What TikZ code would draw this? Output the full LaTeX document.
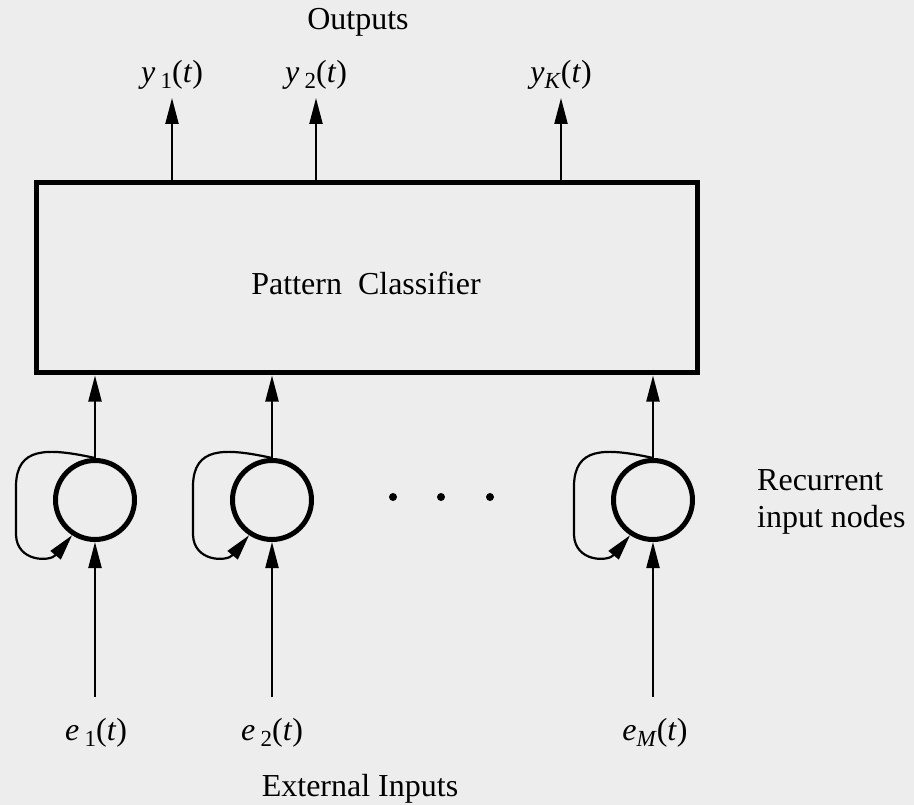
\documentclass[tikz,border=0pt]{standalone}
\usepackage{fontspec}
\setmainfont{Liberation Serif}
\usetikzlibrary{arrows.meta,calc}
\newcommand\sbs[1]{\raisebox{-0.4ex}{\fontsize{23}{26}\selectfont #1}}
\begin{document}
\begin{tikzpicture}[x=1pt,y=-1pt,
  txt/.style={font=\fontsize{32}{37}\selectfont, inner sep=0pt},
  arr/.style={line width=2.2pt, -{Triangle[length=26pt 0 0,width=13pt 0 0]}},
  neuron/.style={circle, draw, line width=5pt, minimum size=79pt, inner sep=0pt},
  boxst/.style={draw, line width=5pt, minimum width=661pt, minimum height=190pt, inner sep=0pt}]
\fill[black!7] (0,0) rectangle (914,805);
\useasboundingbox (0,0) rectangle (914,805);

\node[boxst] (pc) at (366.5,278) {};
\node[txt] (pclab) at (366,283) {Pattern\ \ Classifier};

\node[txt] (out) at (358,22) {Outputs};
\node[txt] (y1) at (172,75) {\textit{y}\,\sbs{1}(\textit{t})};
\node[txt] (y2) at (316,75) {\textit{y}\,\sbs{2}(\textit{t})};
\node[txt] (yk) at (561,75) {\textit{y}\sbs{\textit{K}}(\textit{t})};
\coordinate (o1) at (172,98);
\coordinate (o2) at (316,98);
\coordinate (ok) at (561,98);
\foreach \o in {o1,o2,ok} \draw[arr] (pc.north -| \o) -- (\o);

\node[neuron] (n1) at (95,500) {};
\node[neuron] (n2) at (272,500) {};
\node[neuron] (n3) at (653,500) {};

\foreach \n in {n1,n2,n3} {
  \draw[arr] (\n.north) -- (pc.south -| \n);
  \draw[arr] (\n.north) .. controls ($(\n)+(-50,-53)$) and ($(\n)+(-78,-52)$) .. ($(\n)+(-79,-15)$)
     -- ($(\n)+(-79,35)$) .. controls ($(\n)+(-78,62)$) and ($(\n)+(-45,62)$) .. (\n.237);
}

\node[circle, fill, inner sep=0pt, minimum size=8pt] (d1) at (393,497) {};
\node[circle, fill, inner sep=0pt, minimum size=8pt] (d2) at (441,497) {};
\node[circle, fill, inner sep=0pt, minimum size=8pt] (d3) at (490,497) {};

\node[txt, align=left, anchor=west] (rec) at (757,502) {Recurrent\\input nodes};

\node[txt] (e1) at (96,733) {\textit{e}\,\sbs{1}(\textit{t})};
\node[txt] (e2) at (272,733) {\textit{e}\,\sbs{2}(\textit{t})};
\node[txt] (em) at (655,733) {\textit{e}\sbs{\textit{M}}(\textit{t})};
\coordinate (i1) at (95,697);
\coordinate (i2) at (272,697);
\coordinate (i3) at (653,697);
\draw[arr] (i1) -- (n1.south);
\draw[arr] (i2) -- (n2.south);
\draw[arr] (i3) -- (n3.south);

\node[txt] (ext) at (360,789) {External Inputs};
\end{tikzpicture}
\end{document}
